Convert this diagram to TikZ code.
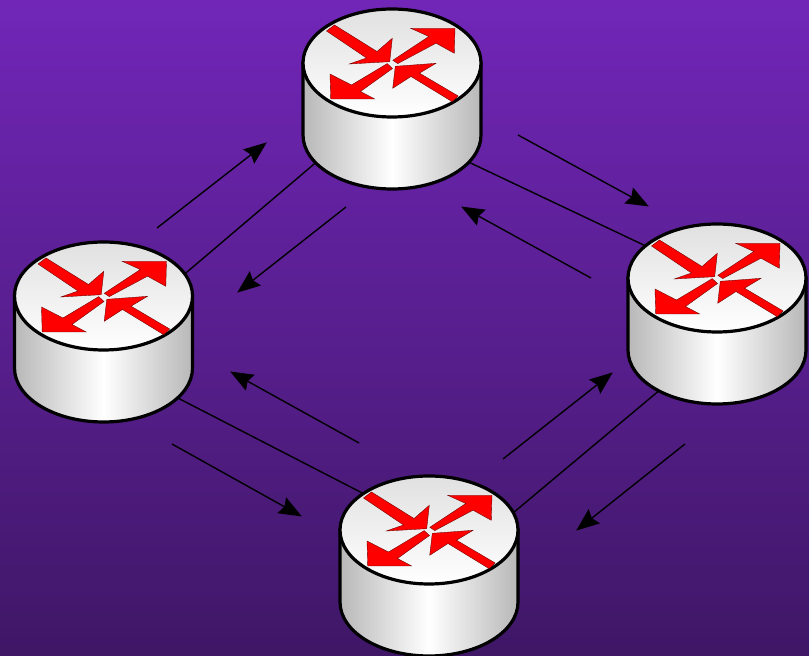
\documentclass[tikz,border=0pt]{standalone}
\usetikzlibrary{arrows.meta}
\definecolor{bgtop}{HTML}{7126B8}
\definecolor{bgbot}{HTML}{3F1766}
\tikzset{
  link/.style={line width=1.4pt, black},
  flow/.style={line width=1.4pt, black, -{Stealth[length=23pt, width=18pt, inset=3pt]}, shorten >=-1pt},
  arrowhalf/.style={fill=red, draw=red!40!black, line width=0.35pt, line join=miter},
  router/.pic={
    % side first, then the lid on top of it
    \draw[line width=3.2pt, left color=black!28, right color=black!28, middle color=white]
      (-89, 0) -- (-89, -72) arc [start angle=180, end angle=360, x radius=89, y radius=54] -- (89, 0) -- cycle;
    \draw[line width=3.2pt, top color=black!12, bottom color=white] (0, 0) ellipse [x radius=89, y radius=54];
    \filldraw[arrowhalf] (-65.5,32) -- (-57.5,38) -- (-15,11.5) -- (0.3,24.7) -- (-2.3,1.3) -- (-42.7,-1) -- (-25.5,5) -- cycle;
    \filldraw[arrowhalf] (0.8,2.7) -- (5.8,-0.6) -- (44,19.8) -- (62.3,9.7) -- (63,34.7) -- (18.7,34.7) -- (36.8,26.5) -- cycle;
    \filldraw[arrowhalf] (-4.8,-0.6) -- (0.5,-5.5) -- (-31.5,-28.5) -- (-17.3,-36) -- (-61.3,-36) -- (-62,-11) -- (-40.5,-22) -- cycle;
    \filldraw[arrowhalf] (66.2,-33) -- (60.2,-38.7) -- (19,-13.5) -- (0.7,-25.3) -- (3.3,-3.3) -- (44,-0.3) -- (27.5,-10.2) -- cycle;
  }
}
\begin{document}
\begin{tikzpicture}[x=1pt, y=1pt]
  \useasboundingbox (0, 0) rectangle (809, 656);
  \fill[top color=bgtop, bottom color=bgbot] (0, 0) rectangle (809, 656);

  % router positions (centre of each lid)
  \coordinate (rtop) at (392, 593);
  \coordinate (rleft) at (103.5, 360);
  \coordinate (rright) at (717, 378);
  \coordinate (rbottom) at (429, 126);

  % link ends, hidden under the routers
  \coordinate (topsw) at (323, 499.5);
  \coordinate (leftne) at (177, 375.5);
  \coordinate (topse) at (460, 498);
  \coordinate (rightnw) at (650, 408);
  \coordinate (leftse) at (172, 261);
  \coordinate (bottomnw) at (370, 159);
  \coordinate (rightsw) at (667, 272);
  \coordinate (bottomne) at (507, 138);

  \draw[link] (topsw) -- (leftne);
  \draw[link] (topse) -- (rightnw);
  \draw[link] (leftse) -- (bottomnw);
  \draw[link] (rightsw) -- (bottomne);

  \coordinate (a1) at (157, 428);  \coordinate (a2) at (266, 513);
  \coordinate (b1) at (346, 449);  \coordinate (b2) at (238, 364);
  \coordinate (c1) at (518, 521);  \coordinate (c2) at (648, 450);
  \coordinate (d1) at (591, 378);  \coordinate (d2) at (462, 449);
  \coordinate (e1) at (359, 213);  \coordinate (e2) at (231, 284);
  \coordinate (f1) at (172, 212);  \coordinate (f2) at (301, 140);
  \coordinate (g1) at (503, 197);  \coordinate (g2) at (612, 283);
  \coordinate (h1) at (685, 212);  \coordinate (h2) at (577, 126);

  \foreach \from/\to in {a1/a2, b1/b2, c1/c2, d1/d2, e1/e2, f1/f2, g1/g2, h1/h2}
    \draw[flow] (\from) -- (\to);

  \pic at (rtop) {router};
  \pic at (rleft) {router};
  \pic at (rright) {router};
  \pic at (rbottom) {router};
\end{tikzpicture}
\end{document}
